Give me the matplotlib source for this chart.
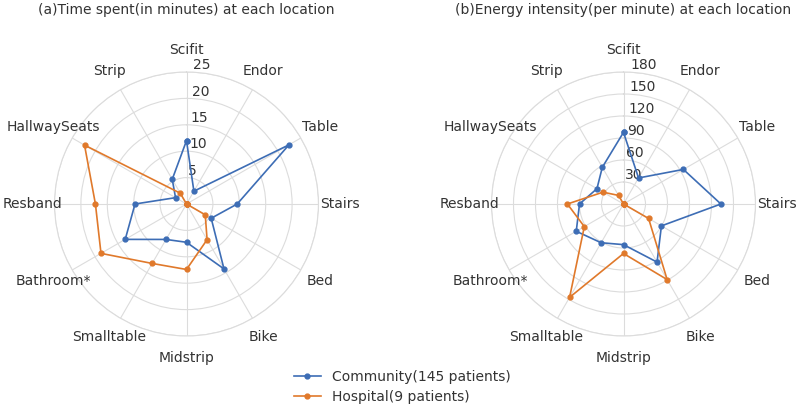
import numpy as np
import matplotlib
matplotlib.use('Agg')
import matplotlib.pyplot as plt

# locations, clockwise from the top
locations = ['Scifit', 'Endor', 'Table', 'Stairs', 'Bed', 'Bike', 'Midstrip',
             'Smalltable', 'Bathroom*', 'Resband', 'HallwaySeats', 'Strip']

# (a) minutes spent at each location
time_community = [12.0, 2.8, 22.4, 9.6, 5.4, 14.2, 7.25, 7.75, 13.4, 9.75, 2.4, 5.4]
time_hospital = [0, 0, 0, 0, 4.1, 7.8, 12.4, 13.0, 18.7, 17.25, 22.3, 2.36]

# (b) energy intensity per minute
energy_community = [97.7, 41, 94.3, 132.8, 59.7, 91.5, 55.4, 61, 74.4, 60, 41.8, 57.8]
energy_hospital = [0, 0, 0, 0, 39.5, 119, 67.5, 147, 61.7, 76.5, 32.3, 13.5]

time_ticks = [5, 10, 15, 20, 25]
energy_ticks = [30, 60, 90, 120, 150, 180]

labels = ['Community(145 patients)', 'Hospital(9 patients)']
colors = ['#3d6db5', '#e0792b']
text_color = '#333333'
grid_color = '#dcdcdc'

angles = np.linspace(0, 2 * np.pi, len(locations), endpoint=False)


def closed(vals):
    return list(vals) + [vals[0]]


def radar(ax, series, ticks):
    ax.set_theta_zero_location('N')
    ax.set_theta_direction(-1)
    a = closed(angles)
    lines = []
    for vals, c, lab in zip(series, colors, labels):
        ln, = ax.plot(a, closed(vals), color=c, lw=1.2, marker='o', ms=3.5, label=lab)
        lines.append(ln)
    rmax = ticks[-1]
    ax.set_ylim(0, rmax)
    ax.set_yticks(ticks)
    ax.set_yticklabels([str(t) for t in ticks], color=text_color, fontsize=10)
    ax.set_rlabel_position(3)
    ax.set_xticks(angles)
    ax.set_xticklabels([])
    # location names centred just outside the outer ring
    for ang, name in zip(angles, locations):
        ax.text(ang, rmax * 1.165, name, ha='center', va='center',
                fontsize=10, color=text_color, clip_on=False)
    ax.grid(True, color=grid_color, lw=0.8)
    ax.spines['polar'].set_color(grid_color)
    ax.spines['polar'].set_linewidth(0.8)
    ax.set_facecolor('white')
    return lines


fig = plt.figure(figsize=(8, 4.15), dpi=100)
w, h = 264 / 800, 264 / 415
ax1 = fig.add_axes([186.5 / 800 - w / 2, 1 - 204 / 415 - h / 2, w, h], projection='polar')
ax2 = fig.add_axes([623.5 / 800 - w / 2, 1 - 204 / 415 - h / 2, w, h], projection='polar')

lines = radar(ax1, [time_community, time_hospital], time_ticks)
radar(ax2, [energy_community, energy_hospital], energy_ticks)

fig.text(186 / 800, 1 - 10 / 415, '(a)Time spent(in minutes) at each location',
         ha='center', va='center', fontsize=10, color=text_color)
fig.text(623 / 800, 1 - 10 / 415, '(b)Energy intensity(per minute) at each location',
         ha='center', va='center', fontsize=10, color=text_color)

leg = fig.legend(handles=lines, loc='center', bbox_to_anchor=(0.503, 0.068),
                 frameon=False, fontsize=10, handlelength=2, labelspacing=0.45)
for t in leg.get_texts():
    t.set_color(text_color)

fig.savefig('out.png', dpi=100)
